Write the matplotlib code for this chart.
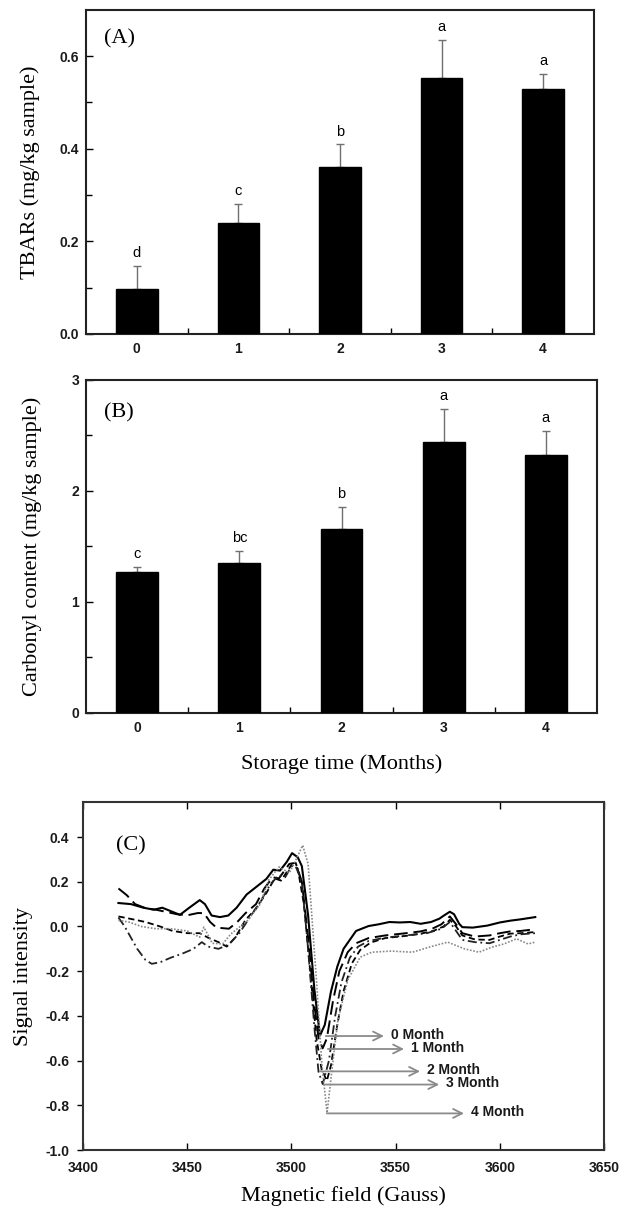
import matplotlib
matplotlib.use("Agg")
import matplotlib.pyplot as plt
from matplotlib.ticker import MultipleLocator, FixedLocator

# ---------------- data ----------------
months = [0, 1, 2, 3, 4]
month_labels = ["0", "1", "2", "3", "4"]

tbars_mean = [0.097, 0.240, 0.360, 0.553, 0.529]
tbars_sd = [0.050, 0.041, 0.050, 0.082, 0.033]
tbars_letters = ["d", "c", "b", "a", "a"]

carb_mean = [1.27, 1.35, 1.66, 2.44, 2.32]
carb_sd = [0.045, 0.11, 0.20, 0.30, 0.22]
carb_letters = ["c", "bc", "b", "a", "a"]

# EPR spectra (field in Gauss, signal intensity)
m0_field = [3417, 3423, 3429, 3434, 3438, 3442, 3446.5, 3451, 3456, 3458.5, 3461.7, 3465.7,
            3469.7, 3473.7, 3478.5, 3483, 3488, 3491.3, 3494.5, 3497.7, 3500.3, 3503, 3505,
            3508, 3511, 3513.7, 3516, 3519, 3522, 3525, 3528, 3531, 3537, 3542, 3547, 3552,
            3557, 3562, 3567, 3571, 3573, 3576, 3578, 3580.5, 3582, 3587, 3594, 3600, 3605,
            3610, 3617]
m0_sig = [0.105, 0.100, 0.084, 0.075, 0.084, 0.069, 0.052, 0.084, 0.118, 0.100, 0.049, 0.042,
          0.049, 0.084, 0.143, 0.176, 0.213, 0.254, 0.250, 0.288, 0.328, 0.310, 0.270,
          0.050, -0.280, -0.488, -0.440, -0.290, -0.180, -0.100, -0.060, -0.020, 0.002, 0.010,
          0.020, 0.018, 0.020, 0.012, 0.020, 0.035, 0.048, 0.066, 0.055, 0.012, -0.003, -0.005,
          0.004, 0.018, 0.026, 0.032, 0.042]

m1_field = [3417, 3421, 3425, 3430, 3435, 3440, 3445, 3450, 3455, 3458, 3461, 3464, 3470,
            3474, 3478, 3483, 3487, 3491, 3494, 3499, 3502, 3505, 3508, 3511, 3513, 3515,
            3517, 3520, 3523, 3527, 3531, 3537, 3545, 3555, 3562, 3568, 3572, 3576, 3579,
            3582, 3588, 3595, 3600, 3605, 3610, 3617]
m1_sig = [0.170, 0.140, 0.100, 0.082, 0.075, 0.065, 0.055, 0.050, 0.060, 0.060, 0.020, -0.005,
          -0.010, 0.020, 0.060, 0.100, 0.170, 0.220, 0.215, 0.280, 0.285, 0.200, -0.050,
          -0.350, -0.500, -0.545, -0.500, -0.330, -0.200, -0.115, -0.075, -0.052, -0.040,
          -0.030, -0.022, -0.008, 0.010, 0.045, 0.010, -0.030, -0.045, -0.040, -0.030,
          -0.022, -0.020, -0.012]

m2_field = [3417, 3425, 3430, 3437, 3443, 3450, 3456, 3460, 3465, 3469, 3473, 3478, 3483,
            3488, 3492, 3495, 3500, 3503, 3506, 3509, 3512, 3514.5, 3517, 3519, 3522, 3525,
            3529, 3533, 3538, 3545, 3555, 3562, 3568, 3573, 3576, 3579, 3582, 3588, 3595,
            3600, 3605, 3610, 3617]
m2_sig = [0.045, 0.030, 0.020, 0.000, -0.020, -0.030, -0.030, -0.050, -0.070, -0.090, -0.050,
          0.030, 0.080, 0.150, 0.215, 0.205, 0.275, 0.260, 0.100, -0.200, -0.500, -0.640,
          -0.690, -0.620, -0.440, -0.290, -0.165, -0.105, -0.072, -0.052, -0.042, -0.032,
          -0.020, 0.000, 0.030, 0.000, -0.040, -0.058, -0.060, -0.045, -0.032, -0.030, -0.025]

m3_field = [3417, 3420, 3423, 3426, 3430, 3433, 3437, 3442, 3448, 3453, 3457, 3460, 3465,
            3470, 3475, 3480, 3485, 3490, 3494, 3497, 3500, 3502, 3505, 3508, 3511, 3513,
            3515, 3518, 3521, 3524, 3528, 3532, 3537, 3545, 3555, 3565, 3572, 3576, 3579,
            3582, 3588, 3595, 3600, 3605, 3610, 3617]
m3_sig = [0.040, 0.000, -0.050, -0.100, -0.150, -0.167, -0.160, -0.140, -0.120, -0.100, -0.070,
          -0.090, -0.100, -0.080, -0.030, 0.040, 0.110, 0.190, 0.230, 0.220, 0.270, 0.270,
          0.200, -0.100, -0.450, -0.650, -0.705, -0.600, -0.400, -0.250, -0.140, -0.090,
          -0.065, -0.050, -0.040, -0.030, -0.010, 0.020, -0.020, -0.060, -0.070, -0.075,
          -0.060, -0.045, -0.035, -0.030]

m4_field = [3417, 3422, 3428, 3435, 3442, 3450, 3456, 3458, 3462, 3467, 3471, 3479, 3485,
            3489, 3494, 3499, 3502, 3505.4, 3508, 3512, 3514.6, 3517.1, 3519.4, 3522.3, 3527,
            3533, 3538.6, 3548, 3558, 3567, 3575, 3579, 3583, 3590, 3596, 3602, 3608, 3613.5,
            3617]
m4_sig = [0.027, 0.020, 0.000, -0.010, -0.010, -0.020, -0.048, -0.003, -0.075, -0.078, -0.033,
          0.027, 0.100, 0.206, 0.266, 0.240, 0.295, 0.363, 0.280, -0.240, -0.615, -0.834,
          -0.645, -0.420, -0.240, -0.137, -0.115, -0.110, -0.115, -0.090, -0.070, -0.085,
          -0.100, -0.115, -0.093, -0.078, -0.055, -0.078, -0.070]

spec_labels = ["0 Month", "1 Month", "2 Month", "3 Month", "4 Month"]
arrow_start = [3516.5, 3517.5, 3513.7, 3515.6, 3517.0]
arrow_end = [3544.4, 3554.0, 3561.7, 3570.9, 3582.8]
arrow_y = [-0.490, -0.548, -0.648, -0.707, -0.836]

# ---------------- style ----------------
SERIF = "Liberation Serif"
SANS = "Liberation Sans"
plt.rcParams["font.family"] = SANS
TICKW = "bold"

fig = plt.figure(figsize=(6.27, 12.21), dpi=100)

def bold_ticks(ax):
    for t in ax.get_xticklabels() + ax.get_yticklabels():
        t.set_fontweight(TICKW)
        t.set_color("#1a1a1a")

def style_bar_axes(ax):
    for s in ax.spines.values():
        s.set_linewidth(1.5)
        s.set_color("#222222")
    ax.set_xlim(-0.5, 4.5)
    ax.set_xticks(months)
    ax.set_xticklabels(month_labels)
    ax.xaxis.set_minor_locator(FixedLocator([0.5, 1.5, 2.5, 3.5]))
    ax.tick_params(axis="x", which="major", direction="in", length=4, width=1,
                   labelsize=10, pad=5.5)
    ax.tick_params(axis="x", which="minor", direction="in", length=4, width=1)
    ax.tick_params(axis="y", which="major", direction="in", length=5, width=1,
                   labelsize=10, pad=5)
    ax.tick_params(axis="y", which="minor", direction="in", length=4, width=1)

# Panel A
axA = fig.add_axes([0.1372, 0.7265, 0.810, 0.2654])
axA.bar(months, tbars_mean, width=0.41, color="black", edgecolor="black", zorder=3)
axA.errorbar(months, tbars_mean, yerr=[[0] * 5, tbars_sd], fmt="none",
             ecolor="#707070", elinewidth=1, capsize=3, capthick=1, zorder=2)
axA.set_ylim(0, 0.7)
axA.yaxis.set_major_locator(FixedLocator([0.0, 0.2, 0.4, 0.6]))
axA.set_yticklabels(["0.0", "0.2", "0.4", "0.6"])
axA.yaxis.set_minor_locator(FixedLocator([0.1, 0.3, 0.5]))
style_bar_axes(axA)
bold_ticks(axA)
for xm, m, s, lab in zip(months, tbars_mean, tbars_sd, tbars_letters):
    axA.annotate(lab, (xm, m + s), xytext=(0, 4), textcoords="offset points",
                 ha="center", va="bottom", fontsize=10.5, fontfamily=SANS)
axA.set_ylabel("TBARs (mg/kg sample)", fontfamily=SERIF, fontsize=16, labelpad=14)
axA.text(0.035, 0.91, "(A)", transform=axA.transAxes, fontfamily=SERIF,
         fontsize=16, va="center", ha="left")

# Panel B
axB = fig.add_axes([0.1372, 0.4161, 0.815, 0.2727])
axB.bar(months, carb_mean, width=0.41, color="black", edgecolor="black", zorder=3)
axB.errorbar(months, carb_mean, yerr=[[0] * 5, carb_sd], fmt="none",
             ecolor="#707070", elinewidth=1, capsize=3, capthick=1, zorder=2)
axB.set_ylim(0, 3)
axB.yaxis.set_major_locator(FixedLocator([0, 1, 2, 3]))
axB.set_yticklabels(["0", "1", "2", "3"])
axB.yaxis.set_minor_locator(FixedLocator([0.5, 1.5, 2.5]))
style_bar_axes(axB)
bold_ticks(axB)
for xm, m, s, lab in zip(months, carb_mean, carb_sd, carb_letters):
    axB.annotate(lab, (xm, m + s), xytext=(0, 4), textcoords="offset points",
                 ha="center", va="bottom", fontsize=10.5, fontfamily=SANS)
axB.set_ylabel("Carbonyl content (mg/kg sample)", fontfamily=SERIF, fontsize=16,
               labelpad=21)
axB.set_xlabel("Storage time (Months)", fontfamily=SERIF, fontsize=16, labelpad=14)
axB.text(0.035, 0.9, "(B)", transform=axB.transAxes, fontfamily=SERIF,
         fontsize=16, va="center", ha="left")

# Panel C
axC = fig.add_axes([0.1324, 0.0581, 0.831, 0.2851])
axC.plot(m0_field, m0_sig, color="black", lw=1.5, ls="-")
axC.plot(m1_field, m1_sig, color="black", lw=1.4, ls=(0, (7, 3)))
axC.plot(m2_field, m2_sig, color="black", lw=1.3, ls=(0, (3.5, 2)))
axC.plot(m3_field, m3_sig, color="#222222", lw=1.3, ls=(0, (5, 2, 1, 2)))
axC.plot(m4_field, m4_sig, color="#888888", lw=1.2, ls=(0, (1, 1)))
for lab, xs, xe, yy in zip(spec_labels, arrow_start, arrow_end, arrow_y):
    axC.annotate("", xy=(xe, yy), xytext=(xs, yy),
                 arrowprops=dict(arrowstyle="->", color="#8a8a8a", lw=1.3,
                                 mutation_scale=16, shrinkA=0, shrinkB=0))
    axC.text(xe + 3.5, yy + 0.005, lab, fontsize=10, fontfamily=SANS,
             fontweight="bold", ha="left", va="center", color="#1a1a1a")
axC.set_xlim(3400, 3650)
axC.set_ylim(-1.0, 0.557)
axC.xaxis.set_major_locator(MultipleLocator(50))
axC.yaxis.set_major_locator(FixedLocator([-1.0, -0.8, -0.6, -0.4, -0.2, 0.0, 0.2, 0.4]))
axC.set_yticklabels(["-1.0", "-0.8", "-0.6", "-0.4", "-0.2", "0.0", "0.2", "0.4"])
for s in axC.spines.values():
    s.set_linewidth(1.5)
    s.set_color("#333333")
axC.tick_params(axis="x", direction="in", length=5, width=1, labelsize=10, pad=8,
                top=True)
axC.tick_params(axis="y", direction="out", length=4, width=1, labelsize=10, pad=6)
bold_ticks(axC)
axC.set_ylabel("Signal intensity", fontfamily=SERIF, fontsize=16, labelpad=9)
axC.set_xlabel("Magnetic field (Gauss)", fontfamily=SERIF, fontsize=16, labelpad=8)
axC.text(0.063, 0.875, "(C)", transform=axC.transAxes, fontfamily=SERIF,
         fontsize=16, va="center", ha="left")

fig.savefig("out.png", dpi=100)
